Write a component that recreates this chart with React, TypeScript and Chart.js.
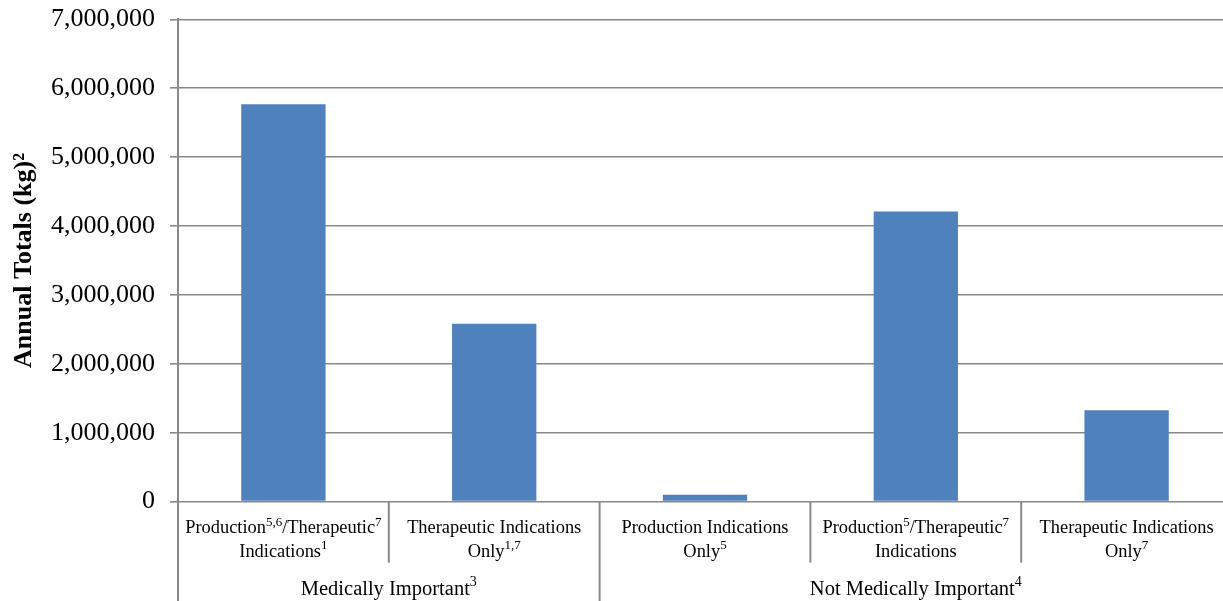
import React, { useEffect, useRef } from 'react';
import { Chart, registerables } from 'chart.js';

Chart.register(...registerables);

// ---- Data ----
const categoryLines: string[][] = [
  ['Production^{5,6}/Therapeutic^{7}', 'Indications^{1}'],
  ['Therapeutic Indications', 'Only^{1,7}'],
  ['Production Indications', 'Only^{5}'],
  ['Production^{5}/Therapeutic^{7}', 'Indications'],
  ['Therapeutic Indications', 'Only^{7}'],
];
const annualTotals: number[] = [5770000, 2580000, 100000, 4210000, 1325000];
const groupLabels: string[] = ['Medically Important^{3}', 'Not Medically Important^{4}'];
const groupFirst: number[] = [0, 2];
const groupLast: number[] = [1, 4];
const yTitle = 'Annual Totals (kg)²';
const yMin = 0;
const yMax = 7000000;
const yStep = 1000000;

const FONT = "'Liberation Serif', 'Times New Roman', serif";
const LINE = '#898989';

function drawRich(
  ctx: CanvasRenderingContext2D,
  text: string,
  cx: number,
  baseline: number,
  size: number,
  supSize: number,
  raise: number
) {
  const parts: { t: string; sup: boolean }[] = [];
  const re = /\^\{([^}]*)\}/g;
  let last = 0;
  let m: RegExpExecArray | null;
  while ((m = re.exec(text))) {
    if (m.index > last) parts.push({ t: text.slice(last, m.index), sup: false });
    parts.push({ t: m[1], sup: true });
    last = re.lastIndex;
  }
  if (last < text.length) parts.push({ t: text.slice(last), sup: false });
  let total = 0;
  const widths = parts.map((p) => {
    ctx.font = `${p.sup ? supSize : size}px ${FONT}`;
    const w = ctx.measureText(p.t).width;
    total += w;
    return w;
  });
  let x = cx - total / 2;
  ctx.textAlign = 'left';
  ctx.textBaseline = 'alphabetic';
  ctx.fillStyle = '#000';
  parts.forEach((p, i) => {
    ctx.font = `${p.sup ? supSize : size}px ${FONT}`;
    ctx.fillText(p.t, x, p.sup ? baseline - raise : baseline);
    x += widths[i];
  });
}

const hierarchyPlugin = {
  id: 'hierarchyAxis',
  afterDraw(chart: any) {
    const ctx: CanvasRenderingContext2D = chart.ctx;
    const xs = chart.scales.x;
    const area = chart.chartArea;
    const n = categoryLines.length;
    const step = xs.getPixelForValue(1) - xs.getPixelForValue(0);
    const boundary = (i: number) => xs.getPixelForValue(i) - step / 2;
    const bottom = area.bottom;
    ctx.save();
    ctx.strokeStyle = LINE;
    ctx.lineWidth = 2;
    for (let i = 0; i <= n; i++) {
      const isGroup = groupFirst.includes(i) || i === n;
      const x = boundary(i);
      ctx.beginPath();
      ctx.moveTo(x, bottom);
      ctx.lineTo(x, isGroup ? chart.height + 2 : bottom + 61);
      ctx.stroke();
    }
    categoryLines.forEach((lines, i) => {
      const cx = xs.getPixelForValue(i);
      lines.forEach((ln, j) => {
        drawRich(ctx, ln, cx, bottom + 31.5 + j * 23.6, 18.4, 13, 7.5);
      });
    });
    groupLabels.forEach((g, k) => {
      const cx = (xs.getPixelForValue(groupFirst[k]) + xs.getPixelForValue(groupLast[k])) / 2;
      drawRich(ctx, g, cx, bottom + 93, 20.5, 14, 8.5);
    });
    ctx.restore();
  },
};

export default function App() {
  const ref = useRef<HTMLCanvasElement | null>(null);
  useEffect(() => {
    if (!ref.current) return;
    const chart = new Chart(ref.current, {
      type: 'bar',
      data: {
        labels: categoryLines.map((l) => l.join(' ').replace(/\^\{([^}]*)\}/g, '$1')),
        datasets: [
          {
            data: annualTotals,
            backgroundColor: '#4F81BD',
            borderWidth: 0,
            categoryPercentage: 1,
            barPercentage: 0.4,
          },
        ],
      },
      options: {
        animation: false,
        responsive: false,
        devicePixelRatio: 1,
        layout: { padding: { top: 19.4, right: 8, bottom: 0, left: 0 } },
        plugins: { legend: { display: false }, tooltip: { enabled: false } },
        scales: {
          x: {
            grid: { display: false },
            border: { display: false },
            ticks: { display: false },
            afterFit: (s: any) => {
              s.height = 99.4;
              s.paddingLeft = 0;
              s.paddingRight = 0;
            },
          },
          y: {
            min: yMin,
            max: yMax,
            ticks: {
              stepSize: yStep,
              color: '#000',
              padding: 15,
              font: { family: FONT, size: 26 },
              callback: (v: any) => Number(v).toLocaleString('en-US'),
            },
            grid: { color: LINE, lineWidth: 1.6, tickLength: 8 },
            border: { color: LINE, width: 2 },
            title: {
              display: true,
              text: yTitle,
              color: '#000',
              font: { family: FONT, size: 26, weight: 'bold' },
              padding: { top: 9, bottom: 0 },
            },
            afterFit: (s: any) => {
              s.width = 178;
              s.paddingTop = 0;
              s.paddingBottom = 0;
            },
          },
        },
      },
      plugins: [hierarchyPlugin],
    });
    return () => chart.destroy();
  }, []);
  return (
    <div
      style={{
        position: 'fixed',
        left: 0,
        top: 0,
        width: 1223,
        height: 601,
        overflow: 'hidden',
        background: '#fff',
      }}
    >
      <canvas ref={ref} width={1240} height={601} style={{ display: 'block' }} />
    </div>
  );
}
